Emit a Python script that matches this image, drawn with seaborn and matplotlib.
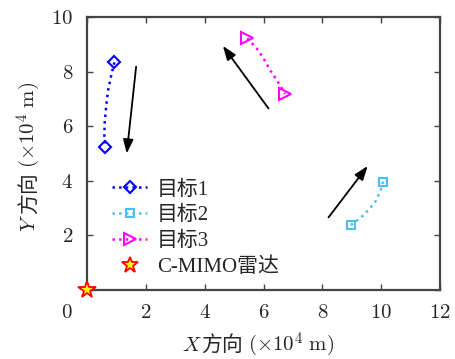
import matplotlib
matplotlib.use("Agg")
import matplotlib.pyplot as plt
from matplotlib.lines import Line2D
from matplotlib.transforms import IdentityTransform
import seaborn as sns
import pandas as pd

# ---- data (units: x10^4 m) ----
t1_x = [0.93, 0.84, 0.72, 0.65, 0.60, 0.59, 0.61]
t1_y = [8.34, 7.94, 7.33, 6.71, 6.11, 5.62, 5.23]
t2_x = [8.97, 9.29, 9.57, 9.80, 9.94, 10.02, 10.06]
t2_y = [2.38, 2.63, 2.93, 3.23, 3.54, 3.78, 3.97]
t3_x = [5.45, 5.77, 6.00, 6.22, 6.45, 6.62, 6.73]
t3_y = [9.22, 8.85, 8.49, 8.06, 7.69, 7.39, 7.18]
radar_x = [0.0]
radar_y = [0.0]
arrows = [  # (x_from, y_from, x_to, y_to)
    (1.67, 8.18, 1.35, 5.00),
    (6.17, 6.65, 4.62, 8.94),
    (8.21, 2.66, 9.54, 4.54),
]
labels = ["目标1", "目标2", "目标3", "C-MIMO雷达"]
xticks = [0, 2, 4, 6, 8, 10, 12]
yticks = [0, 2, 4, 6, 8, 10]

sns.set_style("ticks")
plt.rcParams["font.family"] = ["Liberation Serif", "Noto Sans CJK SC"]
plt.rcParams["mathtext.fontset"] = "cm"
plt.rcParams["axes.edgecolor"] = "#454545"

W_PX, H_PX = 456, 359
fig = plt.figure(figsize=(4.56, 3.59), dpi=100)
ax = fig.add_axes([87 / W_PX, 1 - 290 / H_PX, 353 / W_PX, 273 / H_PX])

series = [
    (t1_x, t1_y, "#0000ff", "D", 6),
    (t2_x, t2_y, "#4dbeee", "s", 6),
    (t3_x, t3_y, "#ff00ff", ">", 8),
]
handles = []
for (xs, ys, c, m, ms), lab in zip(series, labels):
    df = pd.DataFrame({"x": xs, "y": ys})
    sns.lineplot(data=df, x="x", y="y", sort=False, ax=ax, color=c,
                 linestyle=":", linewidth=1.8)
    ends = df.iloc[[0, len(df) - 1]]
    ax.plot(ends["x"], ends["y"], linestyle="none", marker=m, markersize=ms,
            markerfacecolor="none", markeredgecolor=c, markeredgewidth=1.5)
    handles.append(Line2D([], [], color=c, linestyle=":", linewidth=1.8,
                          marker=m, markersize=ms, markerfacecolor="none",
                          markeredgecolor=c, markeredgewidth=1.5))

ax.plot(radar_x, radar_y, linestyle="none", marker="*", markersize=13,
        markerfacecolor="#ffff00", markeredgecolor="#ff0000", markeredgewidth=1.3,
        clip_on=False, zorder=5)
handles.append(Line2D([], [], linestyle="none", marker="*", markersize=12,
                      markerfacecolor="#ffff00", markeredgecolor="#ff0000",
                      markeredgewidth=1.3))

for x0, y0, x1, y1 in arrows:
    ax.annotate("", xy=(x1, y1), xytext=(x0, y0),
                arrowprops=dict(arrowstyle="-|>,head_length=0.6,head_width=0.22",
                                color="black", lw=1.3,
                                mutation_scale=14, shrinkA=0, shrinkB=0))

ax.set_xlim(0, 12)
ax.set_ylim(0, 10)
ax.set_xticks(xticks)
ax.set_yticks(yticks)
ax.set_xticklabels(["" if v == 0 else f"${v}$" for v in xticks])
ax.set_yticklabels(["" if v == 0 else f"${v}$" for v in yticks])
fig.text(67, H_PX - 313, "$0$", transform=IdentityTransform(), fontsize=15,
         ha="center", va="center")
ax.tick_params(direction="in", top=True, right=True, labelsize=15,
               length=4, width=1.0, color="#454545", pad=10)
for s in ax.spines.values():
    s.set_linewidth(1.6)
ax.set_xlabel("")
ax.set_ylabel("")

ax.legend(handles, labels, loc="upper left",
          bbox_to_anchor=(25 / 353, (290 - 180) / 273),
          frameon=False, prop={"size": 15}, handlelength=1.7,
          handletextpad=0.45, labelspacing=0.3, borderaxespad=0, borderpad=0)

# ---- composite axis labels (math italic letter + CJK + math units) ----
LABEL_FS = 15
fig.canvas.draw()
renderer = fig.canvas.get_renderer()


def compose(letter, cx, cy, rotation):
    parts = [
        (f"${letter}$", {}, 0.0),
        ("方向", {"family": ["Noto Sans CJK SC"]}, 0.0),
        (r"$(\times 10^{4}\ \mathrm{m})$", {}, 5.0),
    ]
    texts, widths = [], []
    for s, kw, gap in parts:
        t = fig.text(0, 0, s, transform=IdentityTransform(), fontsize=LABEL_FS,
                     ha="left", va="baseline", rotation=0, **kw)
        w = t.get_window_extent(renderer).width
        texts.append((t, gap))
        widths.append(w + gap)
    total = sum(widths)
    pos = -total / 2
    for (t, gap), w in zip(texts, widths):
        pos += gap
        if rotation == 0:
            t.set_position((cx + pos, cy))
        else:
            t.set_rotation(90)
            t.set_rotation_mode("anchor")
            t.set_position((cx, cy + pos))
        pos += w - gap


compose("X", 258, H_PX - 351, 0)
compose("Y", 35, H_PX - 157, 90)

fig.savefig("out.png", dpi=100)
